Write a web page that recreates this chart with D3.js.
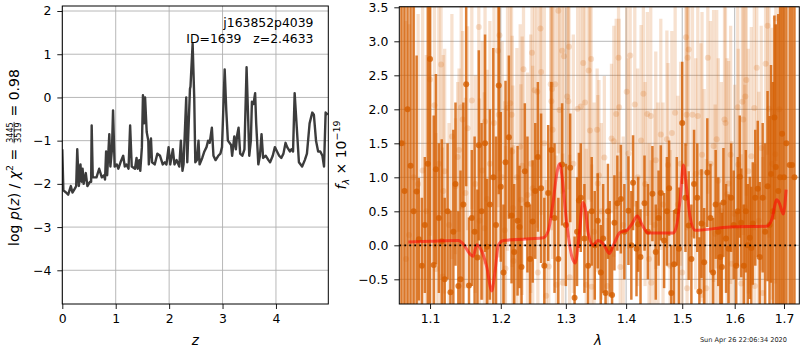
<!DOCTYPE html>
<html><head><meta charset="utf-8">
<script src="https://cdn.jsdelivr.net/npm/d3@7"></script>
<style>body{margin:0;background:#fff}svg text{font-family:"DejaVu Sans",sans-serif}</style>
</head><body>
<svg id="c" width="800" height="350"></svg>
<script>
// ---------- DATA ----------
const TITLE1 = "j163852p4039";
const TITLE2 = "ID=1639   z=2.4633";
const STAMP = "Sun Apr 26 22:06:34 2020";
const FRAC_NUM = "3445", FRAC_DEN = "3519", CHI_VAL = "0.98";

const zTicks = [0,1,2,3,4];
const logpTicks = [-4,-3,-2,-1,0,1,2];
const lamTicks = [1.1,1.2,1.3,1.4,1.5,1.6,1.7];
const fluxTicks = [-0.5,0.0,0.5,1.0,1.5,2.0,2.5,3.0,3.5];

const zGrid = [0.00,0.02,0.07,0.11,0.16,0.19,0.24,0.26,0.28,0.31,0.34,0.36,0.38,0.40,0.44,0.47,0.52,0.54,0.55,0.57,0.64,0.69,0.74,0.78,0.80,0.82,0.84,0.88,0.90,0.93,0.95,0.98,1.02,1.05,1.09,1.14,1.17,1.20,1.24,1.27,1.30,1.36,1.39,1.41,1.44,1.46,1.49,1.51,1.53,1.55,1.58,1.61,1.62,1.66,1.68,1.73,1.78,1.83,1.88,1.92,1.95,1.99,2.02,2.07,2.10,2.14,2.19,2.22,2.25,2.27,2.32,2.34,2.39,2.40,2.44,2.47,2.49,2.52,2.55,2.57,2.62,2.66,2.70,2.73,2.76,2.80,2.83,2.87,2.92,2.96,2.99,3.04,3.07,3.10,3.13,3.16,3.18,3.22,3.25,3.27,3.30,3.33,3.37,3.41,3.45,3.48,3.50,3.53,3.55,3.58,3.61,3.63,3.67,3.70,3.73,3.76,3.81,3.86,3.89,3.94,3.98,4.02,4.06,4.10,4.14,4.18,4.21,4.26,4.29,4.32,4.35,4.39,4.43,4.49,4.54,4.58,4.63,4.68,4.71,4.75,4.79,4.83,4.87,4.90,4.93,4.97];
const logpZ = [-1.2,-2.15,-2.2,-2.25,-2.05,-2.2,-2.1,-2.05,-1.2,-2.05,-1.55,-1.95,-1.65,-2.0,-1.75,-2.05,-1.95,-1.95,-0.65,-1.85,-1.85,-1.65,-1.85,-1.8,-1.9,-1.25,-1.8,-0.85,-1.6,-1.2,-0.3,-1.6,-1.55,-1.65,-1.5,-1.35,-1.6,-1.55,-1.65,-0.65,-1.6,-1.65,-1.4,-1.65,-1.45,-1.7,-1.15,0.05,-0.6,0.0,-0.8,-1.0,-1.55,-0.95,-1.5,-1.55,-1.3,-1.35,-1.55,-1.5,-1.55,-1.15,-1.55,-1.2,-1.55,-1.45,-1.6,-1.0,-1.7,-1.55,0.0,-1.5,0.2,0.25,1.25,0.0,-1.5,-1.45,-1.0,-1.55,-1.4,-1.25,-1.15,-1.0,-1.05,-0.7,-1.35,-1.45,-1.35,-1.3,-1.15,0.65,-0.3,-1.0,-1.05,-1.1,-1.35,-0.9,-1.2,-0.9,-0.7,-1.3,-1.35,-1.2,0.7,-0.5,-1.35,-1.0,-0.1,-0.15,0.1,-0.6,-1.55,-1.35,-0.85,-1.4,-1.35,-1.45,-1.5,-1.35,-1.15,-1.25,-1.35,-1.4,-1.3,-1.05,-1.15,-1.25,-1.2,-1.25,0.1,-0.7,-1.5,-1.6,-1.45,-1.3,-0.6,-0.35,-0.4,-1.0,-1.25,-1.25,-1.35,-1.6,-0.35,-0.4];

// G141 spectrum, strong beam (dark)
const darkWave = [1.062,1.066,1.070,1.074,1.078,1.082,1.085,1.089,1.093,1.097,1.100,1.105,1.108,1.112,1.116,1.120,1.124,1.128,1.132,1.135,1.139,1.142,1.146,1.150,1.154,1.158,1.162,1.166,1.168,1.172,1.177,1.180,1.184,1.189,1.193,1.197,1.200,1.204,1.207,1.212,1.216,1.220,1.225,1.228,1.231,1.236,1.240,1.244,1.248,1.252,1.256,1.261,1.266,1.272,1.277,1.282,1.288,1.294,1.300,1.307,1.314,1.318,1.321,1.324,1.330,1.336,1.342,1.347,1.352,1.357,1.361,1.365,1.369,1.372,1.376,1.380,1.385,1.391,1.397,1.404,1.409,1.412,1.418,1.421,1.425,1.432,1.438,1.446,1.452,1.457,1.461,1.467,1.472,1.476,1.480,1.485,1.490,1.494,1.500,1.506,1.512,1.517,1.522,1.528,1.532,1.536,1.541,1.547,1.553,1.558,1.563,1.568,1.572,1.575,1.578,1.583,1.588,1.593,1.598,1.603,1.606,1.610,1.613,1.618,1.622,1.626,1.630,1.633,1.636,1.641,1.646,1.650,1.656,1.661,1.666,1.670,1.673,1.677,1.680,1.683,1.688,1.692,1.696,1.700,1.705,1.712,1.717,1.722];
const darkFlux = [1.5,0.8,2.0,1.17,0.5,0.79,0.09,-0.3,0.3,1.2,2.74,-0.29,1.12,0.4,0.06,-0.5,0.5,-0.69,0.2,0.9,-0.6,-0.5,0.6,2.37,-0.59,0.4,0.2,-0.18,1.47,0.5,1.50,-0.02,0.6,1.0,0.3,2.35,0.86,-0.4,1.22,1.59,0.44,-0.1,0.36,0.27,-0.32,1.09,0.60,-0.2,0.35,0.8,1.30,0.84,-0.3,0.77,1.40,0.4,-0.2,1.19,0.3,1.14,-0.77,0.2,0.66,0.70,0.1,-0.3,0.5,0.0,0.36,-0.4,0.1,-0.70,0.5,-0.05,-0.73,0.33,0.62,0.68,0.2,0.51,0.0,0.92,-0.05,0.31,-0.17,0.62,0.2,0.76,-0.1,0.4,0.77,0.07,0.5,0.84,-0.70,-0.28,0.5,-0.05,1.80,0.7,0.29,-0.2,0.90,0.70,-0.68,0.32,-0.25,1.07,0.4,-0.4,0.6,0.2,-0.17,-0.32,0.63,0.1,-0.05,0.70,0.3,-0.3,0.5,1.01,0.33,-0.3,0.5,0.0,0.11,-0.04,0.32,0.7,0.83,-0.17,0.70,0.2,0.87,0.3,1.05,0.5,1.88,1.15,0.8,1.0,1.64,1.0,1.5,1.18,1.18,1.0];
const darkErr = [5.0,5.0,4.5,4.0,4.5,2.0,0.9,1.0,1.0,3.0,3.6,2.2,1.4,1.1,1.5,1.2,1.0,1.2,1.5,1.2,1.1,1.6,1.5,1.5,1.0,1.0,1.4,1.0,1.4,1.3,1.6,1.0,1.4,1.9,1.3,1.6,1.1,1.0,1.2,1.2,1.0,1.0,1.1,0.9,0.9,1.0,1.0,0.8,0.9,1.0,1.1,1.1,1.0,1.0,1.0,1.1,0.9,0.9,0.9,0.8,0.9,0.8,0.7,0.8,0.8,0.8,0.8,0.8,0.7,0.7,0.8,0.7,0.7,0.7,0.7,0.7,0.7,0.8,0.7,0.8,0.8,0.7,0.7,0.7,0.7,0.7,0.7,0.7,0.7,0.7,0.7,0.7,0.8,0.7,0.7,0.8,0.8,0.9,0.9,0.8,0.8,0.8,0.8,0.8,0.8,0.8,0.8,0.8,0.8,0.8,0.8,0.8,0.8,0.8,0.8,0.8,0.8,0.8,0.8,0.8,0.8,0.9,0.8,0.9,0.9,0.9,0.9,0.9,0.9,1.0,1.0,1.1,1.1,1.3,1.4,1.6,1.6,1.9,1.5,2.1,2.6,2.8,3.0,4.0,4.5,5.0,5.0,5.0];

// G141 spectrum, second beam (light)
const lightWave = [1.064,1.068,1.072,1.078,1.084,1.090,1.095,1.100,1.106,1.108,1.112,1.115,1.117,1.118,1.120,1.126,1.130,1.135,1.138,1.140,1.143,1.145,1.149,1.152,1.158,1.163,1.168,1.169,1.173,1.176,1.177,1.180,1.184,1.190,1.196,1.197,1.198,1.202,1.206,1.207,1.210,1.214,1.216,1.217,1.218,1.219,1.224,1.229,1.230,1.232,1.234,1.240,1.245,1.247,1.248,1.251,1.255,1.256,1.260,1.261,1.266,1.269,1.273,1.276,1.277,1.278,1.279,1.283,1.285,1.288,1.290,1.294,1.295,1.297,1.302,1.304,1.305,1.306,1.312,1.319,1.324,1.328,1.331,1.333,1.337,1.339,1.341,1.342,1.346,1.351,1.352,1.354,1.358,1.363,1.368,1.375,1.379,1.383,1.387,1.388,1.390,1.395,1.401,1.404,1.407,1.415,1.420,1.426,1.430,1.433,1.437,1.440,1.443,1.444,1.450,1.452,1.456,1.461,1.465,1.472,1.474,1.478,1.481,1.487,1.492,1.497,1.500,1.507,1.508,1.509,1.510,1.512,1.519,1.525,1.529,1.535,1.537,1.541,1.545,1.548,1.553,1.559,1.562,1.565,1.568,1.574,1.580,1.582,1.585,1.588,1.592,1.594,1.600,1.606,1.607,1.613,1.615,1.617,1.620,1.621,1.623,1.627,1.633,1.639,1.640,1.644,1.648,1.653,1.656,1.662,1.666,1.669,1.675,1.682,1.683,1.690];
const lightFlux = [1.5,-0.2,0.15,1.0,0.9,1.1,0.5,2.44,2.06,-0.35,1.2,2.66,-0.46,0.80,1.09,0.3,1.6,0.87,1.30,1.40,2.03,1.85,0.77,1.72,2.13,0.9,3.21,0.36,1.1,0.25,1.82,0.68,1.20,1.8,2.86,1.92,3.09,1.0,0.22,-0.34,2.02,2.09,1.92,1.38,0.55,-0.23,1.0,1.45,0.67,1.17,2.59,0.74,1.20,2.83,0.84,2.28,2.26,-0.40,3.19,2.55,1.5,-0.74,-0.31,2.37,2.12,2.30,1.70,2.37,-0.58,3.45,1.99,2.86,-0.55,2.78,2.19,2.12,2.92,-0.47,1.2,2.01,2.04,2.68,2.10,-0.58,2.57,1.69,2.74,-0.61,0.2,1.70,0.91,1.03,0.5,1.29,-0.6,1.57,1.53,1.93,2.76,2.03,-0.32,0.3,2.26,1.35,2.79,2.07,1.0,1.54,2.23,0.9,1.93,-0.2,1.90,-0.55,0.3,1.25,0.5,1.63,0.6,1.56,1.18,-0.3,1.65,1.95,0.6,1.2,-0.4,3.06,1.92,-0.63,2.76,2.88,1.92,1.05,1.9,1.07,1.33,0.3,-0.63,2.76,1.2,1.46,0.17,1.56,0.95,0.5,1.85,1.80,0.75,0.91,1.33,-0.27,0.46,2.03,1.19,-0.56,2.11,1.85,0.56,2.19,2.43,1.09,1.31,2.02,-0.60,2.61,0.36,1.43,-0.70,2.67,3.23,2.01,1.2,1.34,3.34,2.0];
const lightErr = [4.0,3.5,3.1,3.3,2.5,2.5,2.3,2.3,2.1,2.0,2.4,2.2,1.9,2.0,1.8,1.5,1.8,1.0,1.1,1.2,1.5,1.3,1.4,1.5,1.6,1.6,2.2,1.8,1.9,2.0,2.1,1.9,2.1,2.2,2.3,2.1,2.0,2.0,1.9,1.8,2.1,2.0,1.9,1.7,1.8,1.7,1.9,1.8,1.7,1.9,2.0,1.8,1.9,2.1,1.8,1.9,2.0,1.8,2.2,2.1,2.0,1.7,1.8,2.0,1.9,1.8,1.9,2.0,1.9,2.1,2.0,2.1,1.9,2.0,1.9,2.0,2.1,1.8,1.9,1.9,2.0,2.0,1.9,2.0,1.9,2.0,2.1,1.8,1.9,0.9,1.3,1.4,1.3,1.2,1.0,1.1,1.7,1.4,1.4,1.3,1.4,1.3,1.3,1.4,1.4,1.5,1.6,1.7,1.6,1.5,1.5,1.7,1.6,1.8,1.7,1.6,1.6,1.7,1.5,1.6,1.5,1.7,1.5,1.6,1.6,1.5,1.6,1.6,1.7,1.6,1.6,1.8,1.8,1.7,1.8,1.9,2.1,2.0,1.9,2.0,2.1,2.0,1.9,1.9,1.8,1.9,1.8,1.7,2.0,1.8,1.9,1.8,1.9,1.8,1.7,1.9,1.8,1.7,1.8,1.9,1.7,1.8,1.9,1.8,1.8,1.9,1.9,1.8,2.0,2.0,1.9,1.9,2.0,1.9,2.1,2.0,2.1,2.0,2.3,2.5,2.4,2.7,2.9,3.0,3.3];

// best-fit model
const modelWave = [1.071,1.100,1.139,1.146,1.1555,1.160,1.165,1.172,1.1795,1.1867,1.1916,1.1964,1.2038,1.2645,1.2723,1.2801,1.2855,1.2896,1.2934,1.3003,1.3094,1.3148,1.3217,1.3273,1.3310,1.3365,1.3447,1.3520,1.3614,1.3714,1.3782,1.3896,1.4011,1.4097,1.4195,1.4272,1.4388,1.4837,1.4899,1.4960,1.5021,1.5084,1.5145,1.5239,1.5909,1.6643,1.6746,1.6850,1.6903,1.6987,1.7044];
const modelFlux = [0.05,0.06,0.07,0.02,-0.13,-0.16,0.01,-0.08,-0.32,-0.67,-0.38,0.0,0.07,0.11,0.22,0.66,1.05,1.2,1.05,0.41,-0.16,-0.26,0.17,0.63,0.56,0.17,0.0,0.07,0.02,-0.12,0.0,0.19,0.22,0.31,0.43,0.31,0.18,0.18,0.30,0.66,1.18,0.82,0.42,0.22,0.27,0.28,0.38,0.67,0.62,0.46,0.82];

// ---------- DRAW ----------
const svg = d3.select("#c");
const FONT = "DejaVu Sans";
const FS = 12.4;
const GRID = "#b0b0b0";
const L = {x0:62.3, x1:328.3, y0:6, y1:304};
const R = {x0:399.3, x1:799.3, y0:6.7, y1:304};

const defs = svg.append("defs");
defs.append("clipPath").attr("id","clipL").append("rect")
  .attr("x",L.x0).attr("y",L.y0).attr("width",L.x1-L.x0).attr("height",L.y1-L.y0);
defs.append("clipPath").attr("id","clipR").append("rect")
  .attr("x",R.x0).attr("y",R.y0).attr("width",R.x1-R.x0).attr("height",R.y1-R.y0);

function styleAxis(g){
  g.attr("font-family",FONT).attr("font-size",FS);
  g.select(".domain").remove();
  g.selectAll(".tick line").attr("stroke","#000").attr("stroke-width",0.9);
  g.selectAll(".tick text").attr("fill","#000");
}

// ---- Left panel ----
const xL = d3.scaleLinear().domain([0,4.98]).range([L.x0,L.x1]);
const yL = d3.scaleLinear().domain([-4.78,2.116]).range([L.y1,L.y0]);
const gL = svg.append("g");
gL.append("g").selectAll("line").data(zTicks).join("line")
  .attr("x1",d=>xL(d)).attr("x2",d=>xL(d)).attr("y1",L.y0).attr("y2",L.y1)
  .attr("stroke",GRID).attr("stroke-width",0.9);
gL.append("g").selectAll("line").data(logpTicks).join("line")
  .attr("x1",L.x0).attr("x2",L.x1).attr("y1",d=>yL(d)).attr("y2",d=>yL(d))
  .attr("stroke",GRID).attr("stroke-width",0.9);
gL.append("path").datum(zGrid.map((z,i)=>[z,logpZ[i]]))
  .attr("clip-path","url(#clipL)")
  .attr("d",d3.line().x(d=>xL(d[0])).y(d=>yL(d[1])))
  .attr("fill","none").attr("stroke","#3c3c3c").attr("stroke-width",2.4).attr("stroke-linejoin","round");
gL.append("rect").attr("x",L.x0).attr("y",L.y0).attr("width",L.x1-L.x0).attr("height",L.y1-L.y0)
  .attr("fill","none").attr("stroke","#000").attr("stroke-width",1);
gL.append("g").attr("transform",`translate(0,${L.y1})`)
  .call(d3.axisBottom(xL).tickValues(zTicks).tickFormat(d3.format("d")).tickSize(5).tickPadding(5)).call(styleAxis);
gL.append("g").attr("transform",`translate(${L.x0},0)`)
  .call(d3.axisLeft(yL).tickValues(logpTicks).tickFormat(d3.format("d")).tickSize(5).tickPadding(6)).call(styleAxis);
gL.append("text").attr("x",313.5).attr("y",27).attr("text-anchor","end").attr("font-size",FS).text(TITLE1);
gL.append("text").attr("x",313.5).attr("y",43).attr("text-anchor","end").attr("font-size",FS).style("white-space","pre").text(TITLE2);
gL.append("text").attr("x",(L.x0+L.x1)/2).attr("y",345).attr("text-anchor","middle").attr("font-size",13.5).attr("font-style","italic").text("z");

// left y label
{
  const g = svg.append("g").attr("transform","translate(18.5,157.5) rotate(-90)");
  const inner = g.append("g");
  const t1 = inner.append("text").attr("font-size",14).style("white-space","pre");
  t1.append("tspan").text("log ");
  t1.append("tspan").attr("font-style","italic").text("p");
  t1.append("tspan").text("(");
  t1.append("tspan").attr("font-style","italic").text("z");
  t1.append("tspan").text(") / ");
  t1.append("tspan").attr("font-style","italic").text("χ");
  t1.append("tspan").attr("font-size",9.5).attr("dy",-5.5).text("2");
  t1.append("tspan").attr("dy",5.5).text(" = ");
  const w1 = t1.node().getComputedTextLength();
  const num = inner.append("text").attr("font-size",8).attr("y",-5.6).text(FRAC_NUM);
  const den = inner.append("text").attr("font-size",8).attr("y",2.8).text(FRAC_DEN);
  const wf = Math.max(num.node().getComputedTextLength(), den.node().getComputedTextLength());
  num.attr("x",w1+1.5);
  den.attr("x",w1+1.5);
  inner.append("line").attr("x1",w1+1).attr("x2",w1+2+wf).attr("y1",-4.4).attr("y2",-4.4).attr("stroke","#000").attr("stroke-width",0.7);
  const t3 = inner.append("text").attr("font-size",14).attr("x",w1+wf+3).style("white-space","pre").text(" = "+CHI_VAL);
  const W = w1+wf+3+t3.node().getComputedTextLength();
  inner.attr("transform",`translate(${-W/2},0)`);
}

// ---- Right panel ----
const xR = d3.scaleLog().domain([1.0592,1.7323]).range([R.x0,R.x1]);
const yR = d3.scaleLinear().domain([-0.863,3.509]).range([R.y1,R.y0]);
const gR = svg.append("g");
gR.append("g").selectAll("line").data(lamTicks).join("line")
  .attr("x1",d=>xR(d)).attr("x2",d=>xR(d)).attr("y1",R.y0).attr("y2",R.y1)
  .attr("stroke",GRID).attr("stroke-width",0.9);
gR.append("g").selectAll("line").data(fluxTicks).join("line")
  .attr("x1",R.x0).attr("x2",R.x1).attr("y1",d=>yR(d)).attr("y2",d=>yR(d))
  .attr("stroke",GRID).attr("stroke-width",0.9);

const plot = gR.append("g").attr("clip-path","url(#clipR)");
function drawSeries(wave, flux, err, color, w, r){
  const d = wave.map((x,i)=>({x, f:flux[i], e:err[i]}));
  const g = plot.append("g");
  g.selectAll("line").data(d).join("line")
    .attr("x1",p=>xR(p.x)).attr("x2",p=>xR(p.x))
    .attr("y1",p=>yR(p.f-p.e)).attr("y2",p=>yR(p.f+p.e))
    .attr("stroke",color).attr("stroke-width",w);
  g.selectAll("circle").data(d).join("circle")
    .attr("cx",p=>xR(p.x)).attr("cy",p=>yR(p.f)).attr("r",r).attr("fill",color);
}
drawSeries(lightWave, lightFlux, lightErr, "rgba(213,94,0,0.19)", 3.3, 3);
drawSeries(darkWave, darkFlux, darkErr, "rgba(213,94,0,0.8)", 2.5, 3);

plot.append("path").datum(modelWave.map((x,i)=>[x,modelFlux[i]]))
  .attr("d",d3.line().x(d=>xR(d[0])).y(d=>yR(d[1])).curve(d3.curveMonotoneX))
  .attr("fill","none").attr("stroke","#ff0000").attr("stroke-opacity",0.55).attr("stroke-width",3);
plot.append("line").attr("x1",R.x0).attr("x2",R.x1).attr("y1",yR(0)).attr("y2",yR(0))
  .attr("stroke","#000").attr("stroke-width",1.8).attr("stroke-dasharray","1.8,3.2");

gR.append("rect").attr("x",R.x0).attr("y",R.y0).attr("width",R.x1-R.x0).attr("height",R.y1-R.y0)
  .attr("fill","none").attr("stroke","#000").attr("stroke-width",1);
gR.append("g").attr("transform",`translate(0,${R.y1})`)
  .call(d3.axisBottom(xR).tickValues(lamTicks).tickFormat(d3.format(".1f")).tickSize(5).tickPadding(5)).call(styleAxis);
gR.append("g").attr("transform",`translate(${R.x0},0)`)
  .call(d3.axisLeft(yR).tickValues(fluxTicks).tickFormat(d3.format(".1f")).tickSize(5).tickPadding(6)).call(styleAxis);
gR.append("text").attr("x",598).attr("y",345).attr("text-anchor","middle").attr("font-size",13.5).attr("font-style","italic").text("λ");

// right y label
{
  const g = svg.append("g").attr("transform","translate(345.5,155) rotate(-90)");
  const t = g.append("text").attr("text-anchor","middle").attr("font-size",14);
  t.append("tspan").attr("font-style","italic").text("f");
  t.append("tspan").attr("font-style","italic").attr("font-size",9.5).attr("dy",3).text("λ");
  t.append("tspan").attr("dy",-3).text(" × 10");
  t.append("tspan").attr("font-size",9.5).attr("dy",-5.5).text("−19");
}

svg.append("text").attr("x",787).attr("y",342).attr("text-anchor","end").attr("font-size",6.6).attr("fill","#222").text(STAMP);
</script>
</body></html>
